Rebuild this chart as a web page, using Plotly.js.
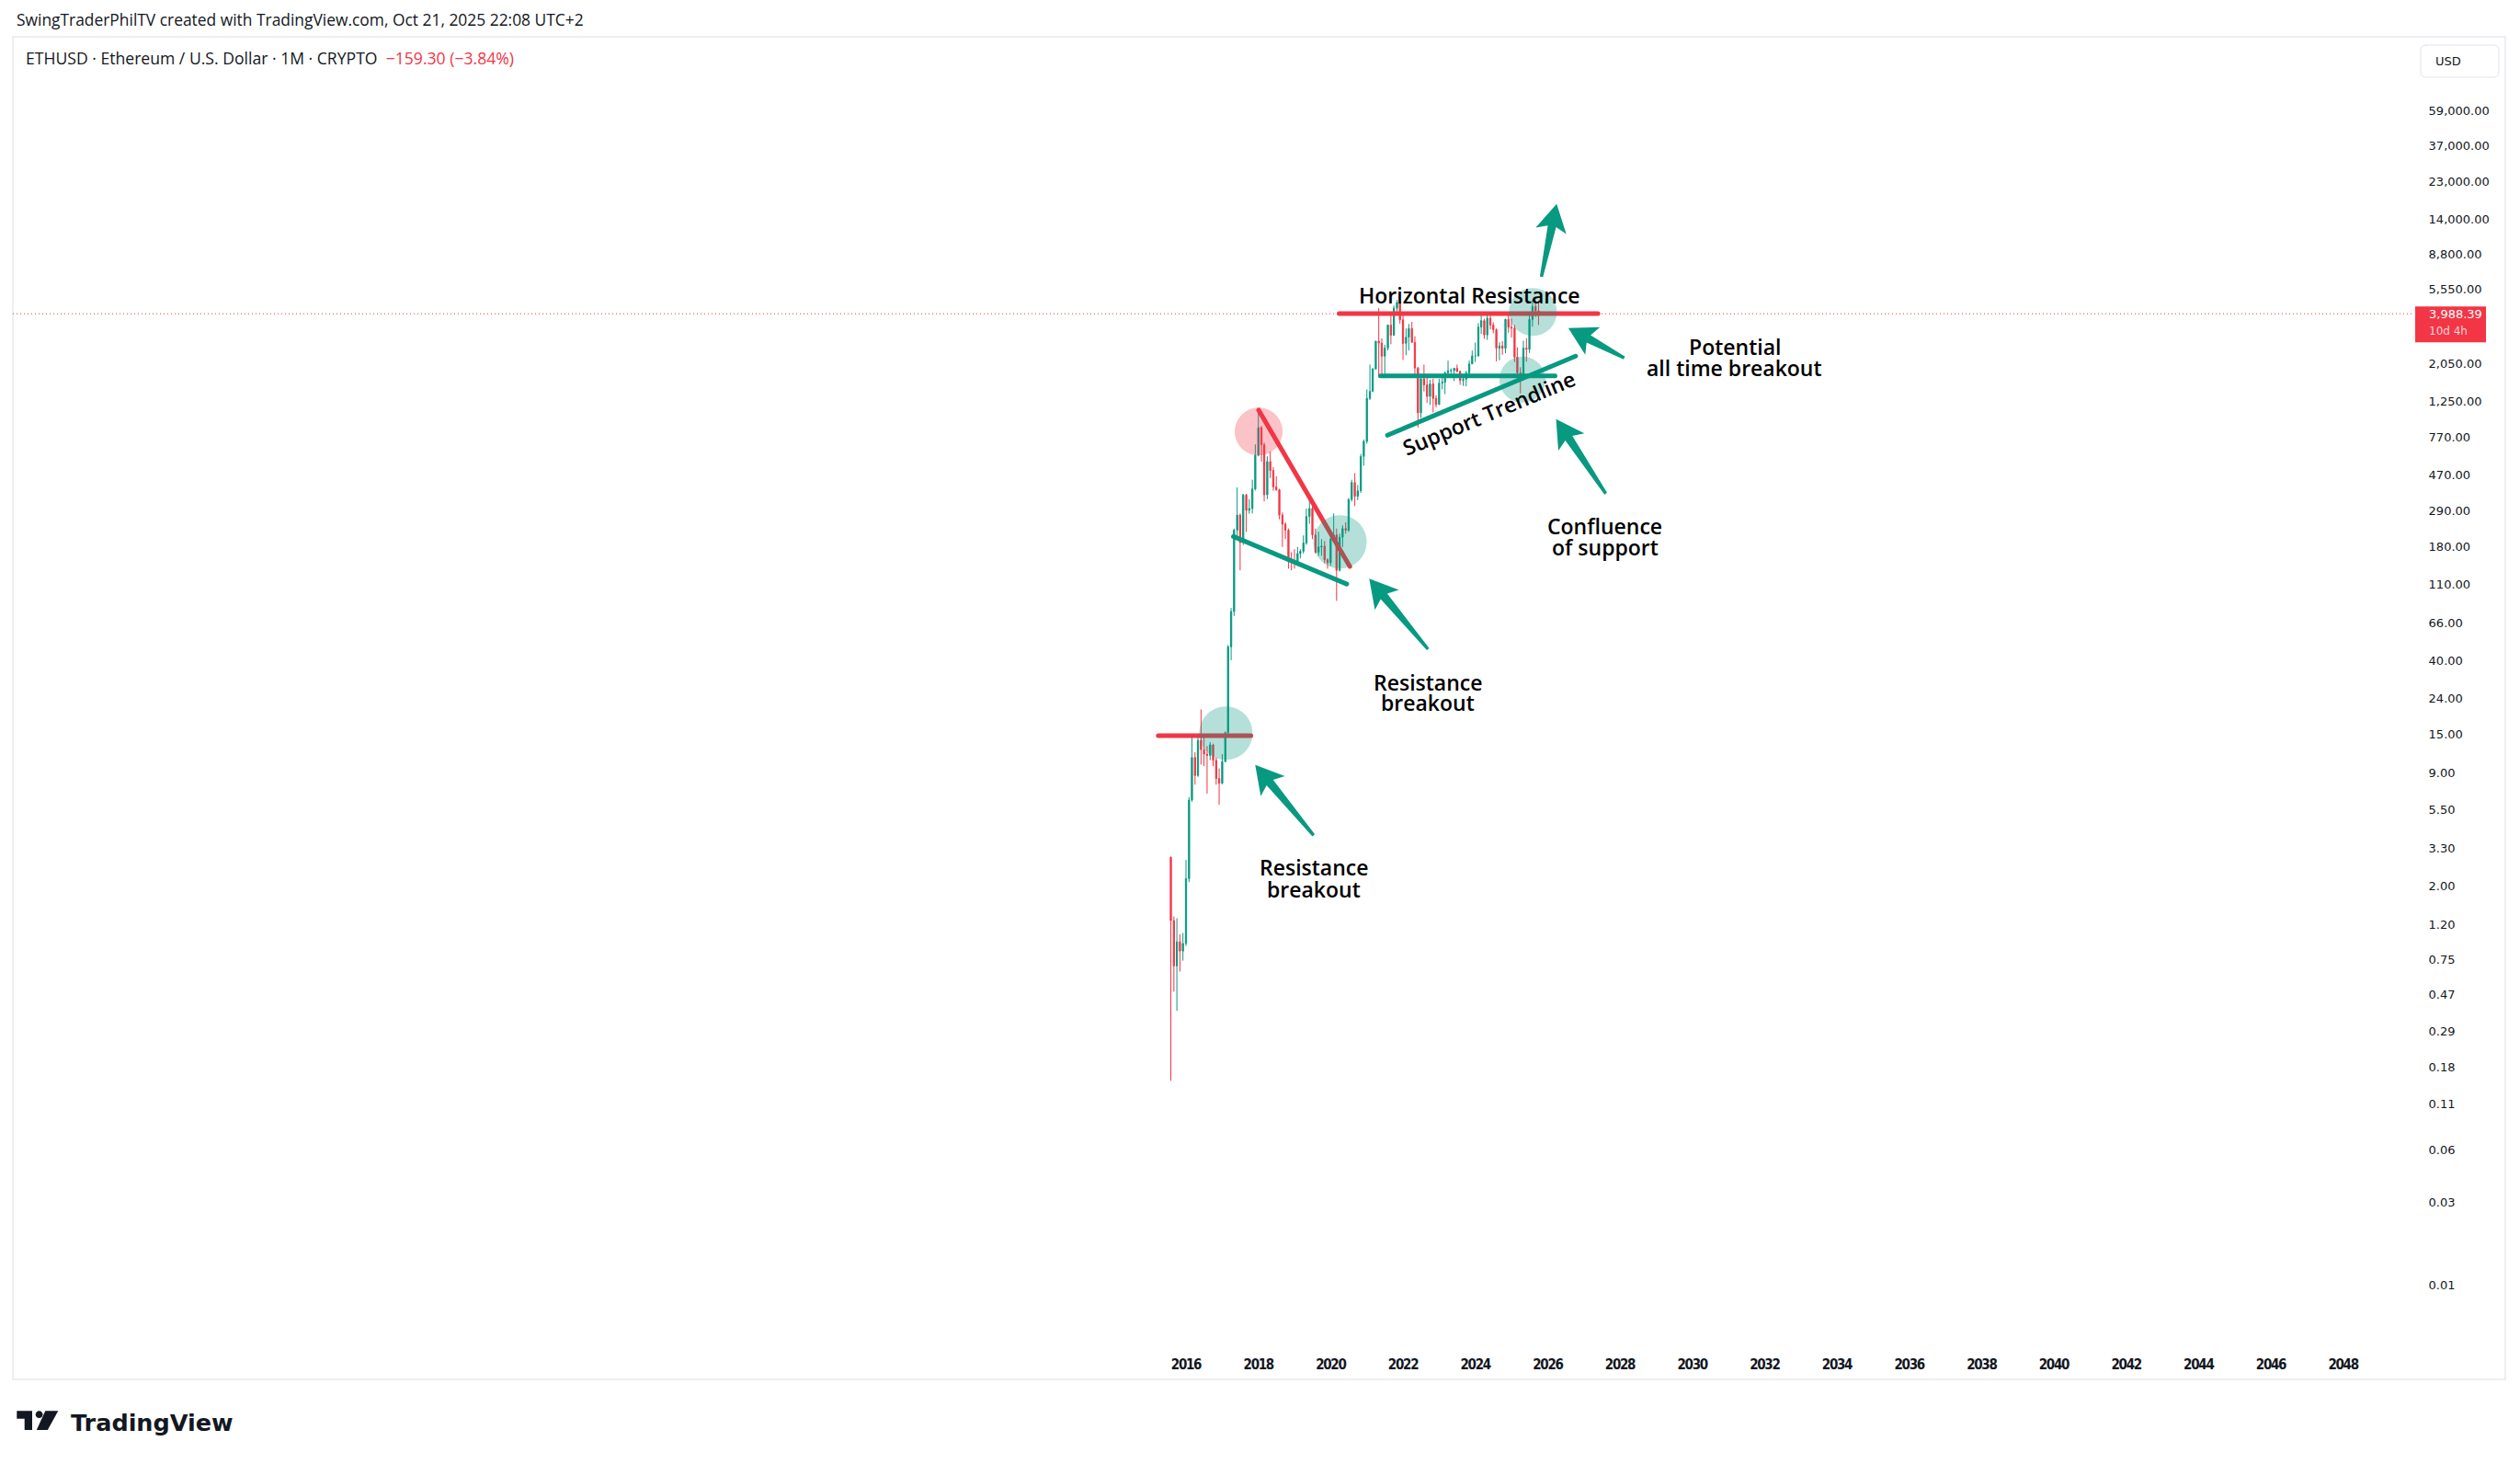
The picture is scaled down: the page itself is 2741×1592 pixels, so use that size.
<!DOCTYPE html>
<html>
<head>
<meta charset="utf-8">
<script src="https://cdn.plot.ly/plotly-3.0.1.min.js"></script>
<style>
  html, body { margin:0; padding:0; background:#ffffff; }
  #chart { width:2741px; height:1592px; }
  .shapelayer path { stroke-linecap: round; }
  .xtick text { letter-spacing: -1.3px; }
</style>
</head>
<body>
<div id="chart"></div>
<script>
// ---------------- DATA: ETHUSD monthly candles (CRYPTO index) ----------------
const months = [
 '2015-08-01','2015-09-01','2015-10-01','2015-11-01','2015-12-01',
 '2016-01-01','2016-02-01','2016-03-01','2016-04-01','2016-05-01','2016-06-01','2016-07-01','2016-08-01','2016-09-01','2016-10-01','2016-11-01','2016-12-01',
 '2017-01-01','2017-02-01','2017-03-01','2017-04-01','2017-05-01','2017-06-01','2017-07-01','2017-08-01','2017-09-01','2017-10-01','2017-11-01','2017-12-01',
 '2018-01-01','2018-02-01','2018-03-01','2018-04-01','2018-05-01','2018-06-01','2018-07-01','2018-08-01','2018-09-01','2018-10-01','2018-11-01','2018-12-01',
 '2019-01-01','2019-02-01','2019-03-01','2019-04-01','2019-05-01','2019-06-01','2019-07-01','2019-08-01','2019-09-01','2019-10-01','2019-11-01','2019-12-01',
 '2020-01-01','2020-02-01','2020-03-01','2020-04-01','2020-05-01','2020-06-01','2020-07-01','2020-08-01','2020-09-01','2020-10-01','2020-11-01','2020-12-01',
 '2021-01-01','2021-02-01','2021-03-01','2021-04-01','2021-05-01','2021-06-01','2021-07-01','2021-08-01','2021-09-01','2021-10-01','2021-11-01','2021-12-01',
 '2022-01-01','2022-02-01','2022-03-01','2022-04-01','2022-05-01','2022-06-01','2022-07-01','2022-08-01','2022-09-01','2022-10-01','2022-11-01','2022-12-01',
 '2023-01-01','2023-02-01','2023-03-01','2023-04-01','2023-05-01','2023-06-01','2023-07-01','2023-08-01','2023-09-01','2023-10-01','2023-11-01','2023-12-01',
 '2024-01-01','2024-02-01','2024-03-01','2024-04-01','2024-05-01','2024-06-01','2024-07-01','2024-08-01','2024-09-01','2024-10-01','2024-11-01','2024-12-01',
 '2025-01-01','2025-02-01','2025-03-01','2025-04-01','2025-05-01','2025-06-01','2025-07-01','2025-08-01','2025-09-01','2025-10-01'
];
const open = [
 2.92,1.26,0.69,0.95,0.84,
 0.93,2.20,6.24,11.0,8.65,13.8,12.2,11.5,11.3,13.0,10.6,8.31,
 7.81,10.4,15.3,47.8,76.4,225,275,191,359,293,300,389,
 609,879,700,360,560,497,400,385,275,244,225,153,
 150,145,165,170,190,270,300,211,168,180,182,152,
 146,200,211,132,205,230,225,338,424,353,380,599,
 732,1296,1420,1915,2770,2700,2270,2530,3430,3000,4290,4630,
 3680,2690,2920,3280,2730,1940,1070,1680,1550,1330,1570,1295,
 1195,1585,1605,1820,1870,1875,1935,1855,1645,1670,1815,2050,
 2280,2280,3340,3640,3010,3760,3435,3230,2525,2600,2520,3700,
 3335,3300,2240,1820,1795,2530,2485,3700,4390,4147.69
];
const high = [
 2.95,1.33,1.30,1.05,1.07,
 2.82,6.50,14.7,11.8,14.7,20.8,14.4,12.8,13.5,13.2,11.0,9.50,
 11.5,15.5,49.0,80.0,230,397,281,365,365,340,440,703,
 1122,900,720,600,640,520,460,390,285,250,230,168,
 175,180,175,210,300,340,310,230,220,200,195,155,
 215,281,230,215,240,250,345,440,480,410,620,750,
 1460,2030,1940,2780,4300,2880,2640,3460,4020,4450,4780,4770,
 3900,3280,3480,3580,2960,1970,1790,2030,1790,1660,1680,1350,
 1680,1740,1850,2140,1930,1940,2030,1870,1750,1865,2140,2445,
 2720,3520,4000,3730,3980,3890,3560,3280,2730,2770,3730,4010,
 3745,3440,2550,1960,2790,2880,3940,4790,4760,4750
];
const low = [
 0.15,0.49,0.38,0.64,0.74,
 0.90,2.10,6.10,7.66,8.50,10.0,9.80,6.80,10.6,9.80,7.66,5.87,
 7.70,10.3,15.0,40.0,72.0,200,132,185,220,280,281,381,
 600,560,330,340,450,380,380,260,180,200,135,132,
 135,140,155,165,185,245,200,165,160,160,145,135,
 140,195,88,130,180,215,220,330,310,335,370,530,
 710,1270,1420,1900,1730,1700,1720,2450,2660,2970,3960,3500,
 2160,2300,2450,2710,1700,880,1000,1420,1220,1190,1075,1150,
 1190,1460,1370,1780,1760,1630,1830,1550,1530,1520,1780,2050,
 2100,2260,3050,2860,2820,3240,3080,2120,2150,2310,2360,3100,
 2910,2100,1750,1385,1750,2110,2370,3360,3820,3435
];
const close = [
 1.26,0.69,0.95,0.84,0.93,
 2.20,6.24,11.0,8.65,13.8,12.2,11.5,11.3,13.0,10.6,8.31,7.81,
 10.4,15.3,47.8,76.4,225,275,191,359,293,300,389,609,
 879,700,360,560,497,400,385,275,244,225,153,150,
 145,165,170,190,270,300,211,168,180,182,152,146,
 200,211,132,205,230,225,338,424,353,380,599,732,
 1296,1420,1915,2770,2700,2270,2530,3430,3000,4290,4630,3680,
 2690,2920,3280,2730,1940,1070,1680,1550,1330,1570,1295,1195,
 1585,1605,1820,1870,1875,1935,1855,1645,1670,1815,2050,2280,
 2280,3340,3640,3010,3760,3435,3230,2525,2600,2520,3700,3335,
 3300,2240,1820,1795,2530,2485,3700,4390,4147.69,3988.39
];

// axis tick labels
const yearTicks = ['2016','2018','2020','2022','2024','2026','2028','2030','2032','2034','2036','2038','2040','2042','2044','2046','2048'];
const priceTicks = [59000,37000,23000,14000,8800,5550,2050,1250,770,470,290,180,110,66,40,24,15,9,5.5,3.3,2,1.2,0.75,0.47,0.29,0.18,0.11,0.06,0.03,0.01];

// header texts
const authorLine = 'SwingTraderPhilTV created with TradingView.com, Oct 21, 2025 22:08 UTC+2';
const symbolLine = 'ETHUSD · Ethereum / U.S. Dollar · 1M · CRYPTO';
const currency = 'USD';
const countdown = '10d 4h';

// drawings (anchor points as date / price)
const lineStartDate  = ['2015-03-27','2018-01-04','2017-04-24','2020-03-27','2021-05-18','2021-07-28'];
const lineStartPrice = [14.7, 1109, 207, 4000, 1748, 794];
const lineEndDate    = ['2017-10-18','2020-07-13','2020-06-12','2027-05-24','2026-03-17','2026-10-11'];
const lineEndPrice   = [14.7, 139, 110, 4000, 1748, 2271];
const lineKind       = ['red','red','teal','red','teal','teal'];

const circleDate  = ['2017-02-07','2018-01-04','2020-04-05','2025-04-21','2025-08-05'];
const circlePrice = [15.2, 834, 192.5, 1665, 4082];
const circleKind  = ['teal','red','teal','teal','teal'];

const arrowTipDate   = ['2026-04-02','2026-07-29','2026-03-27','2021-01-25','2017-11-30'];
const arrowTipPrice  = [17165, 3300, 984.7, 118.1, 9.97];
const arrowTailDate  = ['2025-10-30','2028-02-14','2027-08-11','2022-09-11','2019-07-13'];
const arrowTailPrice = [6516, 2216, 366, 46.3, 3.91];

const noteText  = ['Horizontal Resistance','Support Trendline','Potential','all time breakout','Confluence','of support','Resistance','breakout','Resistance','breakout'];
const noteDate  = ['2023-11-03','2024-05-15','2031-03-03','2031-03-03','2027-08-05','2027-08-05','2022-09-11','2022-09-11','2019-07-13','2019-07-13'];
const notePrice = [5104, 1069, 2585, 1944, 238.8, 179.6, 29.9, 22.8, 2.55, 1.92];
const noteAngle = [0, -22.8, 0, 0, 0, 0, 0, 0, 0, 0];

// ---------------- LAYOUT GEOMETRY ----------------
const W = 2741, H = 1592;
const plotL = 14, plotR = 2624, plotT = 40, plotB = 1462;
const plotW = plotR - plotL, plotH = plotB - plotT;
const RED = '#f23645', TEAL = '#089981', INK = '#131722';

// time scale: year labels at Jan 1 (2016 at px 1290, 2048 at px 2548.6)
const t2016 = Date.UTC(2016,0,1), t2048 = Date.UTC(2048,0,1);
const pxPerMs = (2548.6 - 1290) / (t2048 - t2016);
const xr0 = t2016 - (1290 - plotL) / pxPerMs;
const xr1 = t2016 + (plotR - 1290) / pxPerMs;
// price scale (log): 59,000 at px 120.6, 0.01 at px 1397
const pxPerDec = (1397 - 120.6) / (Math.log10(59000) - Math.log10(0.01));
const yTop = Math.log10(59000) + (120.6 - plotT) / pxPerDec;
const yBot = Math.log10(59000) - (plotB - 120.6) / pxPerDec;

const iso = ms => new Date(ms).toISOString().slice(0,23).replace('T',' ');
const PX = px => (px - plotL) / plotW;
const PY = py => (plotB - py) / plotH;

const last = close[close.length-1], lastOpen = open[open.length-1];
const chg = last - lastOpen, pct = chg / lastOpen * 100;
const sgn = v => (v < 0 ? '\u2212' : '+') + Math.abs(v).toFixed(2);
const money = v => v.toLocaleString('en-US', {minimumFractionDigits:2, maximumFractionDigits:2});

// ---------------- TRACES ----------------
const priceLine = {
  type:'scatter', mode:'lines', x:[iso(xr0), iso(xr1)], y:[last, last],
  line:{color:RED, width:1, dash:'1px,3px'}, hoverinfo:'skip', showlegend:false
};
const candles = {
  type:'candlestick', x:months, open:open, high:high, low:low, close:close,
  increasing:{line:{color:TEAL, width:1}, fillcolor:TEAL},
  decreasing:{line:{color:RED, width:1}, fillcolor:RED},
  whiskerwidth:0, hoverinfo:'skip', showlegend:false
};

// ---------------- SHAPES ----------------
const shapes = [];
// outer frame
shapes.push({type:'rect', xref:'paper', yref:'paper', x0:PX(14), x1:PX(2725), y0:PY(1500), y1:PY(40),
  line:{color:'#e6e9ef', width:1.5}, fillcolor:'rgba(0,0,0,0)', layer:'below'});

// trend lines
for (let i = 0; i < lineStartDate.length; i++) {
  shapes.push({type:'line', xref:'x', yref:'y',
    x0:lineStartDate[i], y0:lineStartPrice[i], x1:lineEndDate[i], y1:lineEndPrice[i],
    line:{color: lineKind[i] === 'red' ? RED : TEAL, width:5}});
}
// highlight circles (pixel radius, drawn as bezier paths)
function circlePath(r) {
  const k = 0.5523 * r;
  return `M${r},0 C${r},${k} ${k},${r} 0,${r} C${-k},${r} ${-r},${k} ${-r},0 ` +
         `C${-r},${-k} ${-k},${-r} 0,${-r} C${k},${-r} ${r},${-k} ${r},0 Z`;
}
const circleRadius = [29, 26, 29, 25, 26];
for (let i = 0; i < circleDate.length; i++) {
  shapes.push({type:'path', xref:'x', yref:'y', xsizemode:'pixel', ysizemode:'pixel',
    xanchor:circleDate[i], yanchor:circlePrice[i], path:circlePath(circleRadius[i]),
    fillcolor: circleKind[i] === 'red' ? 'rgba(242,54,69,0.3)' : 'rgba(8,153,129,0.3)',
    line:{width:0}});
}
// arrows
function arrowPath(tipD, tipP, tailD, tailP) {
  const tx = (Date.parse(tailD) - Date.parse(tipD)) * pxPerMs;
  const ty = (Math.log10(tailP) - Math.log10(tipP)) * pxPerDec;
  const L = Math.hypot(tx, ty);
  const ux = tx / L, uy = ty / L, nx = -uy, ny = ux;
  const h = 30, hw = 17, neck = 25, w1 = 4.6, w0 = 1.7;
  const pts = [
    [0, 0],
    [ux*h + nx*hw, uy*h + ny*hw],
    [ux*neck + nx*w1, uy*neck + ny*w1],
    [tx + nx*w0, ty + ny*w0],
    [tx - nx*w0, ty - ny*w0],
    [ux*neck - nx*w1, uy*neck - ny*w1],
    [ux*h - nx*hw, uy*h - ny*hw]
  ];
  return 'M' + pts.map(p => p[0].toFixed(2) + ',' + p[1].toFixed(2)).join(' L') + ' Z';
}
for (let i = 0; i < arrowTipDate.length; i++) {
  shapes.push({type:'path', xref:'x', yref:'y', xsizemode:'pixel', ysizemode:'pixel',
    xanchor:arrowTipDate[i], yanchor:arrowTipPrice[i],
    path: arrowPath(arrowTipDate[i], arrowTipPrice[i], arrowTailDate[i], arrowTailPrice[i]),
    fillcolor:TEAL, line:{width:0}});
}
// currency box (rounded)
function roundRect(w, h, r) {
  return `M${r},0 L${w-r},0 Q${w},0 ${w},${-r} L${w},${-(h-r)} Q${w},${-h} ${w-r},${-h} L${r},${-h} Q0,${-h} 0,${-(h-r)} L0,${-r} Q0,0 ${r},0 Z`;
}
shapes.push({type:'path', xref:'paper', yref:'paper', xsizemode:'pixel', ysizemode:'pixel',
  xanchor:PX(2633), yanchor:PY(49), path:roundRect(85, 35, 6),
  fillcolor:'#ffffff', line:{color:'#e0e3eb', width:1}});
// last price label box
shapes.push({type:'path', xref:'paper', yref:'y', xsizemode:'pixel', ysizemode:'pixel',
  xanchor:PX(2627), yanchor:last, path:'M0,8 L77,8 L77,-31 L0,-31 Z',
  fillcolor:RED, line:{width:0}});
// TradingView logo mark
shapes.push({type:'path', xref:'paper', yref:'paper', xsizemode:'pixel', ysizemode:'pixel',
  xanchor:PX(18.3), yanchor:PY(1534.3), path:'M0,0 L16.7,0 L16.7,-20.7 L8.4,-20.7 L8.4,-8.4 L0,-8.4 Z',
  fillcolor:INK, line:{width:0}});
shapes.push({type:'path', xref:'paper', yref:'paper', xsizemode:'pixel', ysizemode:'pixel',
  xanchor:PX(18.3 + 24.3), yanchor:PY(1534.3 + 3.9), path:circlePath(3.9),
  fillcolor:INK, line:{width:0}});
shapes.push({type:'path', xref:'paper', yref:'paper', xsizemode:'pixel', ysizemode:'pixel',
  xanchor:PX(18.3), yanchor:PY(1534.3), path:'M31,0 L45,0 L33.5,-20.7 L21.5,-20.7 Z',
  fillcolor:INK, line:{width:0}});

// ---------------- ANNOTATIONS ----------------
const annotations = [];
const hdrFont = {family:'Open Sans, sans-serif', size:17.6, color:INK};
annotations.push({xref:'paper', yref:'paper', x:PX(16), y:PY(21), xanchor:'left', yanchor:'middle',
  text:authorLine, showarrow:false, font:{family:'Open Sans, sans-serif', size:17.4, color:INK}});
annotations.push({xref:'paper', yref:'paper', x:PX(26), y:PY(63), xanchor:'left', yanchor:'middle',
  text: symbolLine + '\u00a0\u00a0<span style="color:' + RED + '">' + sgn(chg) + ' (' + sgn(pct) + '%)</span>',
  showarrow:false, font:hdrFont});
annotations.push({xref:'paper', yref:'paper', x:PX(2647), y:PY(66.5), xanchor:'left', yanchor:'middle',
  text:currency, showarrow:false, font:{family:'DejaVu Sans, sans-serif', size:13, color:INK}});
annotations.push({xref:'paper', yref:'y', x:PX(2640), y:Math.log10(last), xanchor:'left', yanchor:'middle',
  text:money(last), showarrow:false, font:{family:'DejaVu Sans, sans-serif', size:13, color:'#ffffff'}});
annotations.push({xref:'paper', yref:'y', x:PX(2640), y:Math.log10(last), yshift:-19, xanchor:'left', yanchor:'middle',
  text:countdown, showarrow:false, font:{family:'DejaVu Sans, sans-serif', size:12, color:'rgba(255,255,255,0.78)'}});
annotations.push({xref:'paper', yref:'paper', x:PX(75), y:PY(1546.5), xanchor:'left', yanchor:'middle',
  text:'TradingView', showarrow:false, font:{family:'DejaVu Sans, sans-serif', size:25.5, color:INK, weight:'bold'}});
for (let i = 0; i < noteText.length; i++) {
  annotations.push({xref:'x', yref:'y', x:noteDate[i], y:Math.log10(notePrice[i]),
    xanchor:'center', yanchor:'middle', text:noteText[i], textangle:noteAngle[i], showarrow:false,
    font:{family:'Open Sans, sans-serif', size:23, color:'#000000', weight:600}});
}

// ---------------- LAYOUT ----------------
const layout = {
  width:W, height:H,
  margin:{l:plotL, r:W-plotR, t:plotT, b:H-plotB, pad:0},
  paper_bgcolor:'#ffffff', plot_bgcolor:'#ffffff',
  showlegend:false, boxgap:0.4,
  xaxis:{type:'date', range:[iso(xr0), iso(xr1)], showgrid:false, zeroline:false, showline:false,
    tickmode:'array', tickvals:yearTicks.map(y => y + '-01-01'), ticktext:yearTicks,
    ticks:'outside', ticklen:8, tickcolor:'rgba(0,0,0,0)',
    tickfont:{family:'DejaVu Sans Condensed, DejaVu Sans, sans-serif', size:15, color:INK, weight:'bold'},
    rangeslider:{visible:false}, fixedrange:true},
  yaxis:{type:'log', side:'right', range:[yBot, yTop], showgrid:false, zeroline:false, showline:false,
    tickmode:'array', tickvals:priceTicks, ticktext:priceTicks.map(money),
    ticks:'outside', ticklen:14, tickcolor:'rgba(0,0,0,0)',
    tickfont:{family:'DejaVu Sans, sans-serif', size:13, color:INK}, fixedrange:true},
  shapes:shapes, annotations:annotations
};

Plotly.newPlot('chart', [priceLine, candles], layout, {staticPlot:true, displayModeBar:false});
</script>
</body>
</html>
